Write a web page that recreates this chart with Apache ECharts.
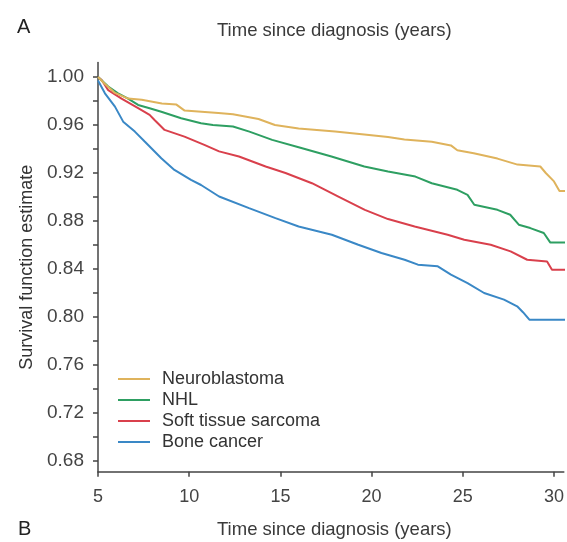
<!DOCTYPE html>
<html>
<head>
<meta charset="utf-8">
<script src="https://cdn.jsdelivr.net/npm/echarts@6/dist/echarts.min.js"></script>
<style>
html,body{margin:0;padding:0;background:#fff;}
#chart{width:567px;height:542px;}
</style>
</head>
<body>
<div id="chart"></div>
<script>
// ---- Data (survival curves) ----
const seriesNames = ["Neuroblastoma", "NHL", "Soft tissue sarcoma", "Bone cancer"];

const neuroTime = [5, 5.4, 5.9, 6.65, 7.4, 8.5, 9.3, 9.75, 11.6, 12.4, 13.8, 14.7, 16.0, 18.0, 19.6, 20.9, 21.8, 23.3, 24.35, 24.7, 25.6, 26.9, 28.0, 29.25, 29.55, 30.0, 30.3, 31];
const neuroSurv = [1.000, 0.994, 0.987, 0.982, 0.981, 0.978, 0.977, 0.972, 0.970, 0.969, 0.965, 0.960, 0.957, 0.9545, 0.952, 0.950, 0.948, 0.946, 0.943, 0.939, 0.9365, 0.932, 0.927, 0.9254, 0.920, 0.913, 0.905, 0.905];

const nhlTime = [5, 5.56, 6.1, 6.65, 7.2, 7.83, 8.47, 9.56, 10.65, 11.3, 12.4, 13.3, 14.55, 16.0, 17.8, 19.6, 20.9, 22.4, 23.3, 24.7, 25.26, 25.63, 26.9, 27.6, 28.07, 28.7, 29.44, 29.8, 31];
const nhlSurv = [1.000, 0.992, 0.9864, 0.982, 0.9767, 0.974, 0.971, 0.9656, 0.9615, 0.960, 0.9587, 0.9545, 0.9476, 0.9415, 0.9337, 0.9254, 0.9212, 0.917, 0.9115, 0.906, 0.9018, 0.8935, 0.8893, 0.8852, 0.8769, 0.8741, 0.870, 0.862, 0.862];

const stsTime = [5, 5.2, 5.56, 6.29, 7.2, 7.83, 8.1, 8.65, 9.74, 10.83, 11.64, 12.73, 14.19, 15.28, 16.73, 18.18, 19.63, 20.9, 22.36, 24.17, 25.08, 26.53, 27.62, 28.53, 29.62, 29.89, 31];
const stsSurv = [1.000, 0.9975, 0.989, 0.982, 0.974, 0.9684, 0.9642, 0.9559, 0.9503, 0.9434, 0.938, 0.9337, 0.9254, 0.920, 0.9115, 0.9004, 0.8893, 0.8816, 0.8754, 0.8685, 0.8644, 0.8602, 0.8547, 0.8477, 0.8463, 0.8394, 0.8394];

const boneTime = [5, 5.02, 5.38, 5.93, 6.38, 7.02, 7.56, 8.47, 9.19, 10.1, 10.65, 11.64, 13.28, 14.73, 16.0, 17.82, 19.27, 20.54, 21.81, 22.54, 23.63, 24.35, 25.26, 26.17, 27.26, 27.98, 28.3, 28.65, 31];
const boneSurv = [0.997, 0.996, 0.9864, 0.9753, 0.9628, 0.9545, 0.9462, 0.9323, 0.9226, 0.9143, 0.910, 0.9004, 0.8907, 0.8824, 0.8754, 0.8685, 0.8602, 0.8533, 0.8477, 0.8436, 0.8422, 0.8353, 0.8283, 0.820, 0.8145, 0.8089, 0.804, 0.7978, 0.7978];

const xTickValues = [5, 10, 15, 20, 25, 30];
const yLabelValues = [0.68, 0.72, 0.76, 0.80, 0.84, 0.88, 0.92, 0.96, 1.00];
const yTickValues = [0.68, 0.70, 0.72, 0.74, 0.76, 0.78, 0.80, 0.82, 0.84, 0.86, 0.88, 0.90, 0.92, 0.94, 0.96, 0.98, 1.00];

const colors = ["#DFB35C", "#2E9F62", "#D9404C", "#3A88C6"];

// ---- Build chart ----
const zip = (t, s) => t.map((v, i) => [v, s[i]]);
const allTimes = [neuroTime, nhlTime, stsTime, boneTime];
const allSurv = [neuroSurv, nhlSurv, stsSurv, boneSurv];

const FONT = "Liberation Sans, Arial, Helvetica, sans-serif";
const chart = echarts.init(document.getElementById('chart'), null, {renderer: 'canvas'});

const option = {
  backgroundColor: '#fff',
  animation: false,
  textStyle: {fontFamily: FONT},
  grid: {left: 98, top: 62.6, width: 469, height: 409.2, containLabel: false},
  legend: {
    orient: 'vertical',
    left: 118,
    top: 370,
    padding: 0,
    itemGap: 3,
    itemWidth: 32,
    itemHeight: 2,
    icon: 'rect',
    data: seriesNames,
    textStyle: {fontFamily: FONT, fontSize: 18, color: '#333', lineHeight: 18, padding: [0, 0, 0, 7]}
  },
  xAxis: {
    type: 'value',
    min: 5,
    max: 30.54,
    interval: 5,
    splitLine: {show: false},
    axisLine: {show: true, onZero: false, lineStyle: {color: '#444', width: 1.5}},
    axisTick: {show: true, length: 5, inside: false, customValues: xTickValues, lineStyle: {color: '#444', width: 1.5}},
    axisLabel: {customValues: xTickValues, margin: 16, fontSize: 18, color: '#444', fontFamily: FONT}
  },
  yAxis: {
    type: 'value',
    min: 0.671,
    max: 1.012,
    name: 'Survival function estimate',
    nameLocation: 'middle',
    nameGap: 60,
    nameRotate: 90,
    nameTextStyle: {fontSize: 18, color: '#333', fontFamily: FONT},
    splitLine: {show: false},
    axisLine: {show: true, onZero: false, lineStyle: {color: '#444', width: 1.5}},
    axisTick: {show: true, length: 5, inside: false, customValues: yTickValues, lineStyle: {color: '#444', width: 1.5}},
    axisLabel: {customValues: yLabelValues, margin: 14, fontSize: 19, color: '#444', fontFamily: FONT,
      formatter: v => v.toFixed(2)}
  },
  series: seriesNames.map((name, i) => ({
    name: name,
    type: 'line',
    showSymbol: false,
    symbol: 'none',
    color: colors[i],
    lineStyle: {width: 2, color: colors[i]},
    data: zip(allTimes[i], allSurv[i]),
    z: 10 - i
  })),
  graphic: [
    {type: 'text', left: 17, top: 17, style: {text: 'A', fontSize: 20, fill: '#222', fontFamily: FONT}},
    {type: 'text', left: 217, top: 21, style: {text: 'Time since diagnosis (years)', fontSize: 18.5, fill: '#3a3a3a', fontFamily: FONT}},
    {type: 'text', left: 18, top: 519, style: {text: 'B', fontSize: 20, fill: '#222', fontFamily: FONT}},
    {type: 'text', left: 217, top: 520, style: {text: 'Time since diagnosis (years)', fontSize: 18.5, fill: '#3a3a3a', fontFamily: FONT}}
  ]
};
chart.setOption(option);
</script>
</body>
</html>
